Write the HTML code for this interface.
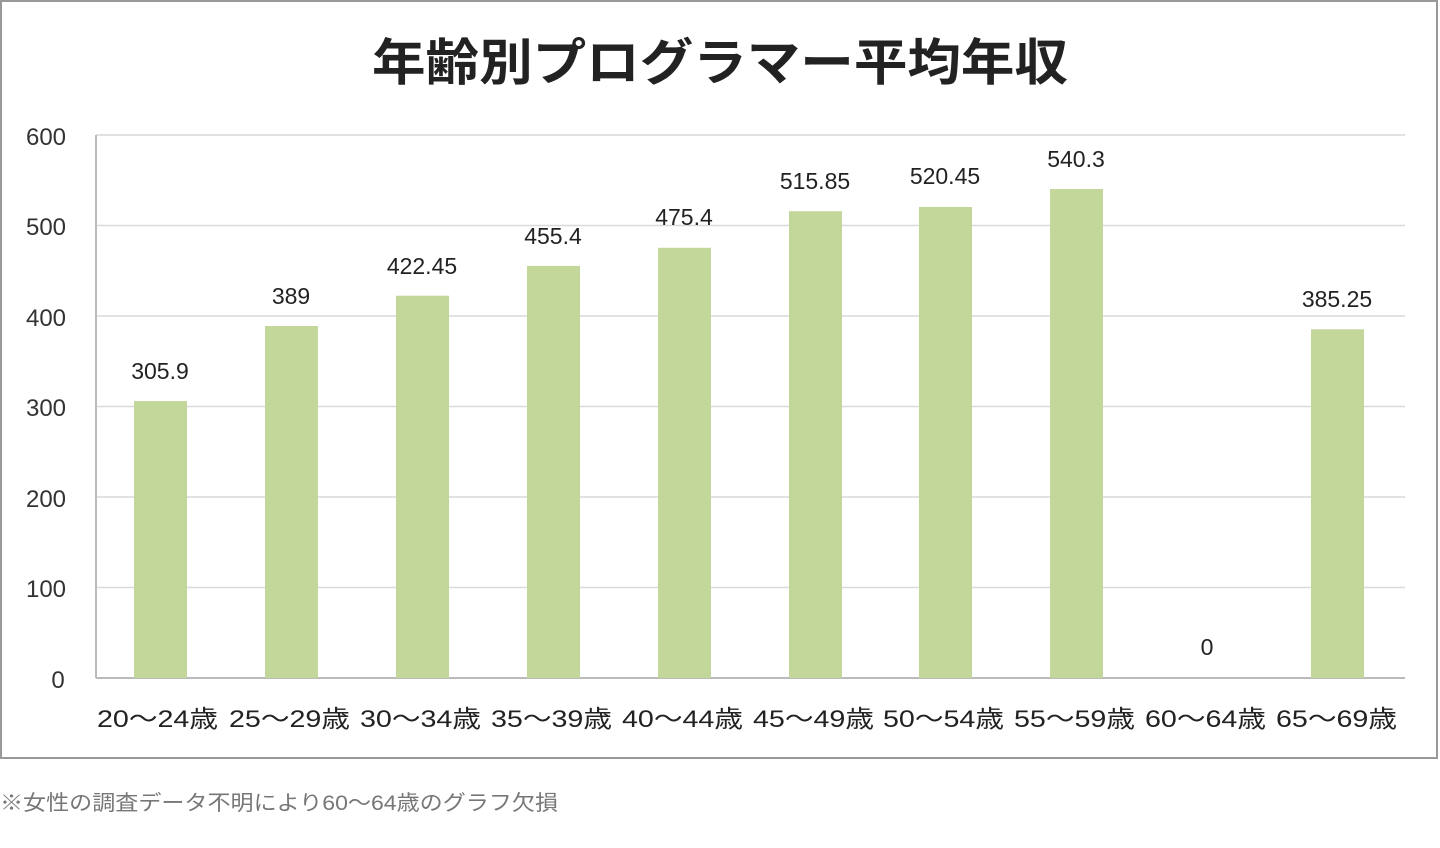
<!DOCTYPE html>
<html><head><meta charset="utf-8"><style>
html,body{margin:0;padding:0;background:#fff;}
svg{display:block;}
text{font-family:"Liberation Sans","Noto Sans CJK JP",sans-serif;}
</style></head><body>
<svg width="1440" height="848" viewBox="0 0 1440 848" xmlns="http://www.w3.org/2000/svg">
<rect x="1" y="1" width="1436" height="757" fill="#fff" stroke="#999" stroke-width="2"/>
<text x="372" y="80" font-size="50" font-weight="bold" fill="#222" textLength="696" lengthAdjust="spacingAndGlyphs">年齢別プログラマー平均年収</text>
<g stroke="#d9d9d9" stroke-width="1.5">
<line x1="96" x2="1405" y1="135" y2="135"/>
<line x1="96" x2="1405" y1="225.5" y2="225.5"/>
<line x1="96" x2="1405" y1="316" y2="316"/>
<line x1="96" x2="1405" y1="406.5" y2="406.5"/>
<line x1="96" x2="1405" y1="497" y2="497"/>
<line x1="96" x2="1405" y1="587.5" y2="587.5"/>
</g>
<line x1="96" x2="96" y1="135" y2="678" stroke="#bbb" stroke-width="2"/>
<line x1="96" x2="1405" y1="678" y2="678" stroke="#bbb" stroke-width="2"/>
<g font-size="24" fill="#333" text-anchor="middle">
<text x="46" y="145">600</text>
<text x="46" y="235">500</text>
<text x="46" y="326">400</text>
<text x="46" y="416">300</text>
<text x="46" y="507">200</text>
<text x="46" y="597">100</text>
<text x="58" y="688">0</text>
</g>
<g fill="#c4d79b">
<rect x="134" y="401" width="53" height="277"/>
<rect x="265" y="326" width="53" height="352"/>
<rect x="396" y="295.7" width="53" height="382.3"/>
<rect x="527" y="265.9" width="53" height="412.1"/>
<rect x="658" y="247.8" width="53" height="430.2"/>
<rect x="789" y="211.2" width="53" height="466.8"/>
<rect x="919" y="207" width="53" height="471"/>
<rect x="1050" y="189" width="53" height="489"/>
<rect x="1311" y="329.3" width="53" height="348.7"/>
</g>
<g font-size="23" fill="#222" text-anchor="middle">
<text x="160" y="379">305.9</text>
<text x="291" y="304">389</text>
<text x="422" y="274">422.45</text>
<text x="553" y="244">455.4</text>
<text x="684" y="225">475.4</text>
<text x="815" y="189">515.85</text>
<text x="945" y="184">520.45</text>
<text x="1076" y="167">540.3</text>
<text x="1207" y="655">0</text>
<text x="1337" y="307">385.25</text>
</g>
<g font-size="24" fill="#222">
<text x="97" y="727" textLength="121" lengthAdjust="spacingAndGlyphs">20～24歳</text>
<text x="229" y="727" textLength="121" lengthAdjust="spacingAndGlyphs">25～29歳</text>
<text x="360" y="727" textLength="121" lengthAdjust="spacingAndGlyphs">30～34歳</text>
<text x="491" y="727" textLength="121" lengthAdjust="spacingAndGlyphs">35～39歳</text>
<text x="622" y="727" textLength="121" lengthAdjust="spacingAndGlyphs">40～44歳</text>
<text x="753" y="727" textLength="121" lengthAdjust="spacingAndGlyphs">45～49歳</text>
<text x="883" y="727" textLength="121" lengthAdjust="spacingAndGlyphs">50～54歳</text>
<text x="1014" y="727" textLength="121" lengthAdjust="spacingAndGlyphs">55～59歳</text>
<text x="1145" y="727" textLength="121" lengthAdjust="spacingAndGlyphs">60～64歳</text>
<text x="1276" y="727" textLength="121" lengthAdjust="spacingAndGlyphs">65～69歳</text>
</g>
<text x="0" y="810" font-size="21" fill="#777" textLength="558" lengthAdjust="spacingAndGlyphs">※女性の調査データ不明により60～64歳のグラフ欠損</text>
</svg>
</body></html>
